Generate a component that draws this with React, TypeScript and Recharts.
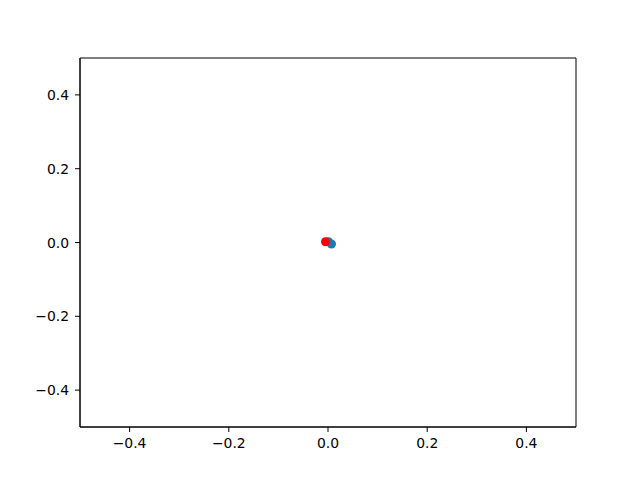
import React from "react"
import {
  ScatterChart,
  Scatter,
  XAxis,
  YAxis,
  ZAxis,
  ReferenceArea,
} from "recharts"

const blueX = [0.001, 0.007]
const blueY = [0.002, -0.004]
const redX = [-0.005]
const redY = [0.002]
const ticks = [-0.4, -0.2, 0, 0.2, 0.4]

const bluePoints = blueX.map((x, i) => ({ x, y: blueY[i] }))
const redPoints = redX.map((x, i) => ({ x, y: redY[i] }))

const fmt = (v: number) => v.toFixed(1).replace("-", "\u2212")

const font = { fontSize: 13.9, fill: "#000", fontFamily: "DejaVu Sans" }

const XTick = ({ x, y, payload }: any) => (
  <text x={x} y={y} dy={14} textAnchor="middle" {...font}>
    {fmt(payload.value)}
  </text>
)

const YTick = ({ x, y, payload }: any) => (
  <text x={x - 4} y={y} dy={5} textAnchor="end" {...font}>
    {fmt(payload.value)}
  </text>
)

export default function App() {
  return (
    <div style={{ width: 640, height: 480, background: "#fff" }}>
      <style>{`body{margin:0}`}</style>
      <ScatterChart
        width={640}
        height={480}
        margin={{ top: 58, right: 64, left: 0, bottom: 0 }}
      >
        <XAxis
          type="number"
          dataKey="x"
          domain={[-0.5, 0.5]}
          ticks={ticks}
          height={53}
          tickSize={5}
          tick={<XTick />}
          stroke="#000"
          allowDataOverflow
        />
        <YAxis
          type="number"
          dataKey="y"
          domain={[-0.5, 0.5]}
          ticks={ticks}
          width={80}
          tickSize={5}
          tick={<YTick />}
          stroke="#000"
          allowDataOverflow
        />
        <ZAxis range={[32, 32]} />
        <ReferenceArea
          x1={-0.5}
          x2={0.5}
          y1={-0.5}
          y2={0.5}
          fill="none"
          stroke="#000"
          strokeWidth={1}
          fillOpacity={0}
        />
        <Scatter data={bluePoints} fill="#1f77b4" isAnimationActive={false} />
        <Scatter data={redPoints} fill="#ff0000" isAnimationActive={false} />
      </ScatterChart>
    </div>
  )
}
